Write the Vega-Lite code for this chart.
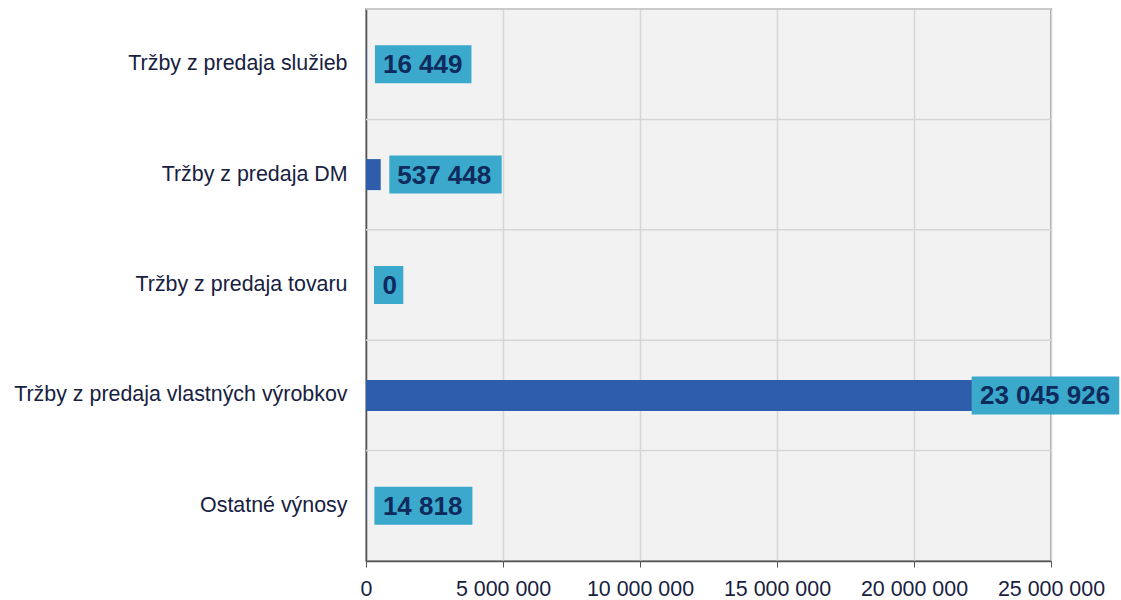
{
  "$schema": "https://vega.github.io/schema/vega-lite/v6.json",
  "autosize": {"type": "none"},
  "width": 685,
  "height": 552,
  "padding": {"left": 366, "top": 9, "right": 70, "bottom": 39},
  "background": "#ffffff",
  "config": {
    "locale": {"number": {"decimal": ",", "thousands": " ", "grouping": [3], "currency": ["", " €"]}},
    "view": {"fill": "#f2f2f2", "stroke": "#8a8a8a", "strokeWidth": 1.5},
    "font": "Liberation Sans"
  },
  "data": {
    "values": [
      {"cat": "Tržby z predaja služieb", "value": 16449},
      {"cat": "Tržby z predaja DM", "value": 537448},
      {"cat": "Tržby z predaja tovaru", "value": 0},
      {"cat": "Tržby z predaja vlastných výrobkov", "value": 23045926},
      {"cat": "Ostatné výnosy", "value": 14818}
    ]
  },
  "encoding": {
    "y": {
      "field": "cat", "type": "nominal", "sort": null, "title": null,
      "scale": {"paddingInner": 0, "paddingOuter": 0},
      "axis": {"grid": false, "ticks": false, "labelFontSize": 21.4, "labelColor": "#17213f", "labelPadding": 19, "domainColor": "#555555", "domainWidth": 1.5, "labelLimit": 400}
    }
  },
  "layer": [
    {
      "mark": {"type": "rule", "color": "#d6d6d6", "strokeWidth": 1.5},
      "encoding": {"y": {"field": "cat", "type": "nominal", "sort": null, "bandPosition": 0}}
    },
    {
      "mark": {"type": "bar", "color": "#2e5eab", "size": 31},
      "encoding": {
        "x": {
          "field": "value", "type": "quantitative", "title": null,
          "scale": {"domain": [0, 25000000], "nice": false},
          "axis": {"values": [0, 5000000, 10000000, 15000000, 20000000, 25000000], "format": ",d", "grid": true, "gridColor": "#d6d6d6", "gridWidth": 1.5, "tickColor": "#555555", "tickSize": 6, "domainColor": "#555555", "domainWidth": 1.5, "labelFontSize": 21.4, "labelColor": "#17213f", "labelPadding": 11, "labelFlush": false}
        }
      }
    },
    {
      "mark": {"type": "point", "filled": true, "opacity": 1, "color": "#3aa9cc", "strokeWidth": 0, "size": 40000},
      "encoding": {
        "x": {"field": "value", "type": "quantitative"},
        "shape": {
          "field": "cat", "type": "nominal", "legend": null,
          "scale": {
            "domain": ["Tržby z predaja služieb", "Tržby z predaja DM", "Tržby z predaja tovaru", "Tržby z predaja vlastných výrobkov", "Ostatné výnosy"],
            "range": [
              "M0.085,-0.19 L1.05,-0.19 L1.05,0.19 L0.085,0.19 Z",
              "M0.086,-0.19 L1.21,-0.19 L1.21,0.19 L0.086,0.19 Z",
              "M0.08,-0.19 L0.373,-0.19 L0.373,0.19 L0.08,0.19 Z",
              "M-0.258,-0.19 L1.218,-0.19 L1.218,0.19 L-0.258,0.19 Z",
              "M0.08,-0.19 L1.06,-0.19 L1.06,0.19 L0.08,0.19 Z"
            ]
          }
        }
      }
    },
    {
      "transform": [{"filter": "datum.value < 20000000"}],
      "mark": {"type": "text", "align": "left", "baseline": "middle", "dx": 16.5, "dy": 1, "fontSize": 26, "fontWeight": "bold", "color": "#0f2a5c"},
      "encoding": {
        "x": {"field": "value", "type": "quantitative"},
        "text": {"field": "value", "type": "quantitative", "format": ",d"}
      }
    },
    {
      "transform": [{"filter": "datum.value >= 20000000"}],
      "mark": {"type": "text", "align": "left", "baseline": "middle", "dx": -17.5, "dy": 1, "fontSize": 26, "fontWeight": "bold", "color": "#0f2a5c"},
      "encoding": {
        "x": {"field": "value", "type": "quantitative"},
        "text": {"field": "value", "type": "quantitative", "format": ",d"}
      }
    }
  ]
}
